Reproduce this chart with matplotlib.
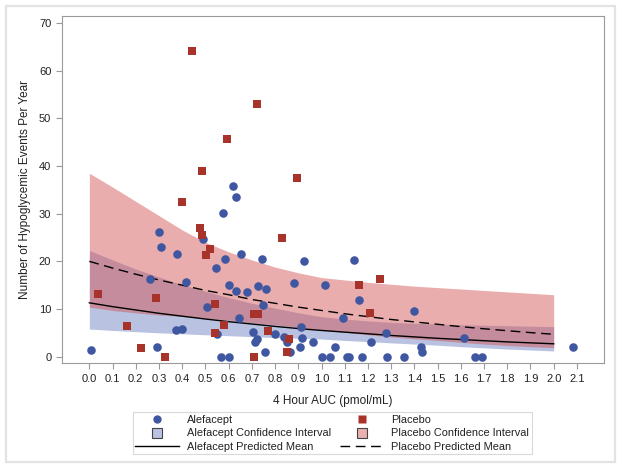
import matplotlib
matplotlib.use('Agg')
import matplotlib.pyplot as plt
from matplotlib.lines import Line2D
from matplotlib.patches import Rectangle
import numpy as np

plt.rcParams['font.family'] = ['Liberation Sans', 'DejaVu Sans']

BLUE = '#3f56a0'; RED = '#a8332b'
BAND_B = '#8090c8'; BAND_R = '#d24b4b'
AXC = '#9a9a9a'; TXT = '#222222'

# observed points
alef_x = [0.006, 0.293, 0.301, 0.310, 0.263, 0.379, 0.415, 0.373, 0.398, 0.490,
          0.507, 0.544, 0.583, 0.551, 0.567, 0.600, 0.576, 0.620, 0.633, 0.603,
          0.633, 0.655, 0.645, 0.679, 0.725, 0.744, 0.760, 0.748, 0.705, 0.714,
          0.724, 0.758, 0.798, 0.837, 0.853, 0.863, 0.880, 0.926, 0.913, 0.917,
          0.906, 0.965, 1.002, 1.035, 1.014, 1.057, 1.093, 1.108, 1.120, 1.139,
          1.161, 1.176, 1.213, 1.278, 1.282, 1.357, 1.397, 1.429, 1.434, 1.612,
          1.661, 1.690, 2.082]
alef_y = [1.4, 2.0, 26.1, 23.1, 16.2, 21.6, 15.6, 5.6, 5.8, 24.6,
          10.4, 18.6, 20.4, 4.7, 0.0, 0.0, 30.1, 35.8, 33.5, 15.0,
          13.7, 21.6, 8.1, 13.5, 14.8, 20.4, 14.2, 10.9, 5.2, 3.1,
          3.7, 1.0, 4.7, 4.2, 3.0, 0.9, 15.5, 20.1, 6.2, 4.0,
          2.0, 3.0, 0.0, 0.0, 15.1, 2.1, 8.1, 0.0, 0.0, 20.2,
          11.8, 0.0, 3.0, 5.0, 0.0, 0.0, 9.5, 2.0, 0.9, 3.9,
          0.0, 0.0, 2.1]

plac_x = [0.036, 0.161, 0.221, 0.289, 0.327, 0.400, 0.441, 0.478, 0.485, 0.485,
          0.501, 0.521, 0.540, 0.543, 0.579, 0.592, 0.709, 0.728, 0.709, 0.724,
          0.770, 0.830, 0.850, 0.859, 0.896, 1.160, 1.210, 1.252]
plac_y = [13.2, 6.4, 1.8, 12.3, 0.0, 32.4, 64.1, 27.0, 25.5, 39.0,
          21.3, 22.6, 11.0, 5.0, 6.7, 45.6, 8.9, 8.9, 0.0, 53.1,
          5.3, 24.9, 0.9, 3.8, 37.5, 15.1, 9.2, 16.3]

# fitted curves, read at 0.1 steps of AUC
grid_x = [0.0, 0.1, 0.2, 0.3, 0.4, 0.5, 0.6, 0.7, 0.8, 0.9, 1.0,
          1.1, 1.2, 1.3, 1.4, 1.5, 1.6, 1.7, 1.8, 1.9, 2.0]
alef_mean = [11.3, 10.5, 9.8, 9.1, 8.5, 7.9, 7.35, 6.85, 6.35, 5.9, 5.5,
             5.15, 4.8, 4.45, 4.15, 3.85, 3.6, 3.35, 3.1, 2.9, 2.7]
alef_lo = [5.8, 5.5, 5.25, 5.0, 4.8, 4.6, 4.4, 4.2, 4.0, 3.85, 3.7,
           3.4, 3.15, 2.9, 2.65, 2.4, 2.1, 1.85, 1.6, 1.4, 1.2]
alef_hi = [22.3, 20.3, 18.4, 16.7, 15.1, 13.7, 12.4, 11.2, 10.2, 9.2, 8.4,
           7.9, 7.5, 7.2, 7.0, 6.85, 6.7, 6.6, 6.5, 6.4, 6.3]
plac_mean = [20.0, 18.6, 17.3, 16.1, 15.0, 13.9, 13.0, 12.0, 11.2, 10.4, 9.7,
             9.0, 8.4, 7.8, 7.3, 6.8, 6.3, 5.85, 5.45, 5.05, 4.7]
plac_lo = [10.4, 9.7, 9.2, 8.75, 8.45, 8.05, 7.7, 7.1, 6.7, 6.15, 5.6,
           5.1, 4.6, 4.15, 3.75, 3.4, 3.0, 2.65, 2.35, 2.1, 1.9]
plac_hi = [38.5, 35.6, 32.6, 29.6, 26.6, 24.0, 22.0, 20.3, 18.8, 17.6, 16.6,
           16.1, 15.6, 15.2, 14.8, 14.5, 14.2, 13.9, 13.6, 13.3, 13.0]

xticks = [round(0.1 * i, 1) for i in range(22)]
yticks = [0, 10, 20, 30, 40, 50, 60, 70]

fig = plt.figure(figsize=(6.21, 4.69), dpi=100)
fig.patches.append(Rectangle((0.01, 0.015), 0.98, 0.972, transform=fig.transFigure,
                             fill=False, ec='#e3e3e3', lw=1.6))
ax = fig.add_axes([0.0994, 0.2254, 0.8737, 0.7405])

ax.fill_between(grid_x, alef_lo, alef_hi, color=BAND_B, alpha=0.55, lw=0, zorder=1)
ax.fill_between(grid_x, plac_lo, plac_hi, color=BAND_R, alpha=0.45, lw=0, zorder=2)
ax.plot(grid_x, alef_mean, color='black', lw=1.0, zorder=3)
ax.plot(grid_x, plac_mean, color='black', lw=1.0, ls=(0, (7, 4)), zorder=3)
ax.scatter(alef_x, alef_y, s=38, marker='o', color=BLUE, lw=0, zorder=4)
ax.scatter(plac_x, plac_y, s=34, marker='s', color=RED, lw=0, zorder=4)

ax.set_xlim(-0.119, 2.218)
ax.set_ylim(-1.39, 71.5)
ax.set_xticks(xticks)
ax.set_xticklabels([f'{v:.1f}' for v in xticks])
ax.set_yticks(yticks)
for s in ax.spines.values():
    s.set_color(AXC); s.set_linewidth(0.8)
ax.tick_params(colors=AXC, labelcolor=TXT, labelsize=8, length=4, width=0.8)
ax.set_xlabel('4 Hour AUC (pmol/mL)', fontsize=8.5, color=TXT, labelpad=8)
ax.set_ylabel('Number of Hypoglycemic Events Per Year', fontsize=8.5, color=TXT, labelpad=6)

handles = [
    Line2D([], [], marker='o', ls='none', color=BLUE, ms=6, mec='none'),
    Line2D([], [], marker='s', ls='none', mfc='#b9c2e2', mec='#444444', mew=0.8, ms=7),
    Line2D([], [], color='black', lw=1.0),
    Line2D([], [], marker='s', ls='none', color=RED, ms=5.5, mec='none'),
    Line2D([], [], marker='s', ls='none', mfc='#ebb0b0', mec='#444444', mew=0.8, ms=7),
    Line2D([], [], color='black', lw=1.0, ls=(0, (7, 4))),
]
labels = ['Alefacept', 'Alefacept Confidence Interval', 'Alefacept Predicted Mean',
          'Placebo', 'Placebo Confidence Interval', 'Placebo Predicted Mean']
leg = fig.legend(handles, labels, ncol=2, loc='center', bbox_to_anchor=(0.535, 0.076),
                 fontsize=7.9, frameon=True, fancybox=False, edgecolor='#d0d0d0',
                 handlelength=4.0, columnspacing=0.8,
                 labelspacing=0.3, borderpad=0.25, handletextpad=0.7)
leg.get_frame().set_linewidth(0.8)
for t in leg.get_texts():
    t.set_color(TXT)

fig.savefig('out.png', dpi=100, facecolor='white')
